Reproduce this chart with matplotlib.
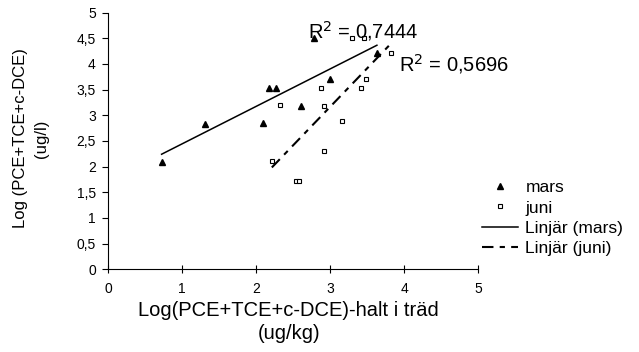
import matplotlib
matplotlib.use("Agg")
import matplotlib.pyplot as plt
from matplotlib.ticker import FuncFormatter, MultipleLocator
import numpy as np

plt.rcParams['font.family'] = ['Liberation Sans', 'DejaVu Sans']

# mars (triangles)
mars_x = [0.72, 1.31, 2.09, 2.17, 2.26, 2.60, 2.78, 3.00, 3.63]
mars_y = [2.10, 2.83, 2.86, 3.53, 3.53, 3.18, 4.50, 3.71, 4.21]
# juni (squares)
juni_x = [2.21, 2.32, 2.54, 2.58, 2.87, 2.91, 2.91, 3.16, 3.30, 3.45, 3.42, 3.48, 3.82]
juni_y = [2.11, 3.20, 1.72, 1.72, 3.54, 3.18, 2.31, 2.88, 4.51, 4.51, 3.54, 3.71, 4.22]
r2_labels = ["R$^2$ = 0,7444", "R$^2$ = 0,5696"]

fig = plt.figure(figsize=(6.39, 3.52), dpi=100)
ax = fig.add_axes([0.1695, 0.235, 0.579, 0.729])

ax.plot(mars_x, mars_y, '^', color='black', ms=4.5, label='mars')
ax.plot(juni_x, juni_y, 's', color='black', mfc='white', ms=3.2, mew=0.8, label='juni')

# linear trend lines
km = np.polyfit(mars_x, mars_y, 1)
xm = np.array([min(mars_x), max(mars_x)])
ax.plot(xm, np.polyval(km, xm), '-', color='black', lw=1.1, label='Linjär (mars)')
kj = np.polyfit(juni_x, juni_y, 1)
xj = np.array([min(juni_x), max(juni_x)])
ax.plot(xj, np.polyval(kj, xj), color='black', lw=1.5, dashes=(5.5, 3, 2.5, 3),
        label='Linjär (juni)')

ax.text(2.70, 4.64, r2_labels[0], fontsize=14.5, va='center', ha='left')
ax.text(3.93, 3.99, r2_labels[1], fontsize=14.5, va='center', ha='left')

ax.set_xlim(0, 5)
ax.set_ylim(0, 5)
ax.xaxis.set_major_locator(MultipleLocator(1))
ax.yaxis.set_major_locator(MultipleLocator(0.5))
comma = FuncFormatter(lambda v, p: ('%g' % v).replace('.', ','))
ax.xaxis.set_major_formatter(comma)
ax.yaxis.set_major_formatter(comma)
ax.spines['top'].set_visible(False)
ax.spines['right'].set_visible(False)
ax.tick_params(axis='y', direction='out', length=4, labelsize=10, pad=5)
ax.tick_params(axis='x', direction='inout', length=6, labelsize=10, pad=6)

ax.set_xlabel("Log(PCE+TCE+c-DCE)-halt i träd\n(ug/kg)", fontsize=14.5, linespacing=1.25)
ax.xaxis.set_label_coords(0.488, -0.123)
ax.xaxis.label.set_va('top')
ax.set_ylabel("Log (PCE+TCE+c-DCE)\n(ug/l)", fontsize=12, linespacing=1.5)
ax.yaxis.set_label_coords(-0.16, 0.51)

ax.legend(loc='upper left', bbox_to_anchor=(482 / 639, 1 - 180 / 352),
          bbox_transform=fig.transFigure, frameon=False, numpoints=1,
          fontsize=12.5, handlelength=2.1, handletextpad=0.4, labelspacing=0.3,
          borderpad=0, borderaxespad=0)

fig.savefig("out.png", dpi=100)
